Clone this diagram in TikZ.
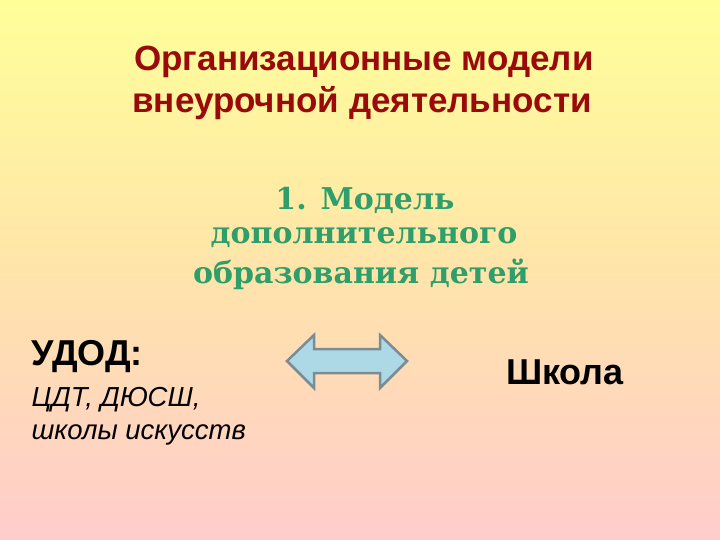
\documentclass[tikz,border=0pt]{standalone}
\usepackage{fontspec}
\setmainfont{Liberation Sans}
\newfontfamily\serifg{DejaVu Serif}
\definecolor{ttl}{HTML}{9A0A0A}
\definecolor{grn}{HTML}{2E9E6A}
\definecolor{arrfill}{HTML}{ADD8E6}
\definecolor{arredge}{HTML}{7A8C94}
\begin{document}
\begin{tikzpicture}[x=1pt,y=-1pt,
  title/.style={text=ttl,font=\bfseries\fontsize{35}{40}\selectfont,anchor=center},
  green/.style={text=grn,font=\serifg\bfseries\fontsize{30}{36}\selectfont,anchor=center},
  big/.style={font=\bfseries\fontsize{36}{40}\selectfont,anchor=west},
  small/.style={font=\itshape\fontsize{27.5}{30}\selectfont,anchor=west}]
\shade[top color={rgb,255:red,255;green,255;blue,153},bottom color={rgb,255:red,255;green,204;blue,204},middle color={rgb,255:red,255;green,228;blue,170}] (0,0) rectangle (720,540);
\useasboundingbox (0,0) rectangle (720,540);
\node[title] (t1) at (364,62) {Организационные модели};
\node[title] (t2) at (362,103) {внеурочной деятельности};
\node[green] (g1) at (365,200) {1. Модель};
\node[green] (g2) at (364,238) {дополнительного};
\node[green] (g3) at (361,274) {образования детей};
\node[big] (u) at (28,357) {УДОД:};
\node[small] (c1) at (28,400) {ЦДТ, ДЮСШ,};
\node[small] (c2) at (28,435) {школы искусств};
\node[big,anchor=center] (s) at (565,372) {Школа};
\draw[fill=arrfill,draw=arredge,line width=2.5pt,line join=miter]
 (287,361) -- (314,335) -- (314,349) -- (380,349) -- (380,335) -- (407,361)
 -- (380,388) -- (380,373) -- (314,373) -- (314,388) -- cycle;
\end{tikzpicture}
\end{document}
